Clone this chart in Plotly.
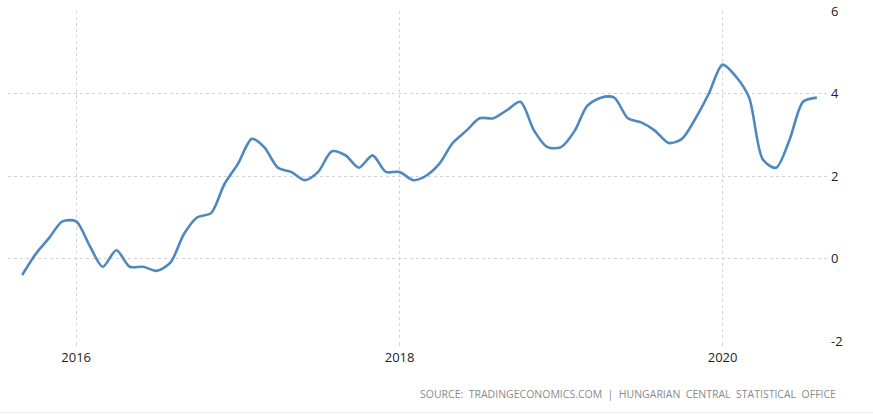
import plotly.graph_objects as go

months = [
    "2015-09-01", "2015-10-01", "2015-11-01", "2015-12-01",
    "2016-01-01", "2016-02-01", "2016-03-01", "2016-04-01", "2016-05-01", "2016-06-01",
    "2016-07-01", "2016-08-01", "2016-09-01", "2016-10-01", "2016-11-01", "2016-12-01",
    "2017-01-01", "2017-02-01", "2017-03-01", "2017-04-01", "2017-05-01", "2017-06-01",
    "2017-07-01", "2017-08-01", "2017-09-01", "2017-10-01", "2017-11-01", "2017-12-01",
    "2018-01-01", "2018-02-01", "2018-03-01", "2018-04-01", "2018-05-01", "2018-06-01",
    "2018-07-01", "2018-08-01", "2018-09-01", "2018-10-01", "2018-11-01", "2018-12-01",
    "2019-01-01", "2019-02-01", "2019-03-01", "2019-04-01", "2019-05-01", "2019-06-01",
    "2019-07-01", "2019-08-01", "2019-09-01", "2019-10-01", "2019-11-01", "2019-12-01",
    "2020-01-01", "2020-02-01", "2020-03-01", "2020-04-01", "2020-05-01", "2020-06-01",
    "2020-07-01", "2020-08-01",
]
inflation = [
    -0.4, 0.1, 0.5, 0.9,
    0.9, 0.3, -0.2, 0.2, -0.2, -0.2,
    -0.3, -0.1, 0.6, 1.0, 1.1, 1.8,
    2.3, 2.9, 2.7, 2.2, 2.1, 1.9,
    2.1, 2.6, 2.5, 2.2, 2.5, 2.1,
    2.1, 1.9, 2.0, 2.3, 2.8, 3.1,
    3.4, 3.4, 3.6, 3.8, 3.1, 2.7,
    2.7, 3.1, 3.7, 3.9, 3.9, 3.4,
    3.3, 3.1, 2.8, 2.9, 3.4, 4.0,
    4.7, 4.4, 3.9, 2.4, 2.2, 2.9,
    3.8, 3.9,
]
year_ticks = ["2016-01-01", "2018-01-01", "2020-01-01"]
year_labels = ["2016", "2018", "2020"]
y_ticks = [-2, 0, 2, 4, 6]
y_labels = ["-2", "0", "2", "4", "6"]
source_text = "SOURCE:  TRADINGECONOMICS.COM  |  HUNGARIAN  CENTRAL  STATISTICAL  OFFICE"

fig = go.Figure()
fig.add_trace(go.Scatter(
    x=months, y=inflation, mode="lines",
    line=dict(color="#4D89C0", width=2.6, shape="spline", smoothing=0.8),
    hoverinfo="x+y", showlegend=False,
))

fig.update_layout(
    width=873, height=415,
    margin=dict(l=8, r=46, t=11, b=74),
    paper_bgcolor="white", plot_bgcolor="white",
    font=dict(family="Open Sans, Noto Sans, sans-serif", color="#222222", size=13),
    xaxis=dict(
        type="date",
        range=["2015-07-31", "2020-08-24"],
        tickvals=year_ticks, ticktext=year_labels,
        showgrid=True, gridcolor="#d3d3d3", griddash="dot", gridwidth=1,
        zeroline=False, showline=False, automargin=False,
        ticks="outside", ticklen=4, tickcolor="#d3d3d3",
        tickfont=dict(size=13, color="#222222"),
    ),
    yaxis=dict(
        side="right", range=[-2, 6], tickvals=y_ticks, ticktext=y_labels,
        showgrid=True, gridcolor="#d3d3d3", griddash="dot", gridwidth=1,
        zeroline=False, showline=False, ticks="", automargin=False,
        ticklabelstandoff=3,
        tickfont=dict(size=13, color="#222222"),
    ),
    annotations=[dict(
        text=source_text, xref="paper", yref="paper",
        x=1.014, y=-0.162, xanchor="right", yanchor="middle",
        showarrow=False, font=dict(size=10.5, color="#8a8a8a"),
    )],
    shapes=[dict(
        type="line", xref="paper", yref="paper",
        x0=-0.02, x1=1.06, y0=-0.217, y1=-0.217,
        line=dict(color="#ebebeb", width=1),
    )],
)

fig.write_html("out.html")
